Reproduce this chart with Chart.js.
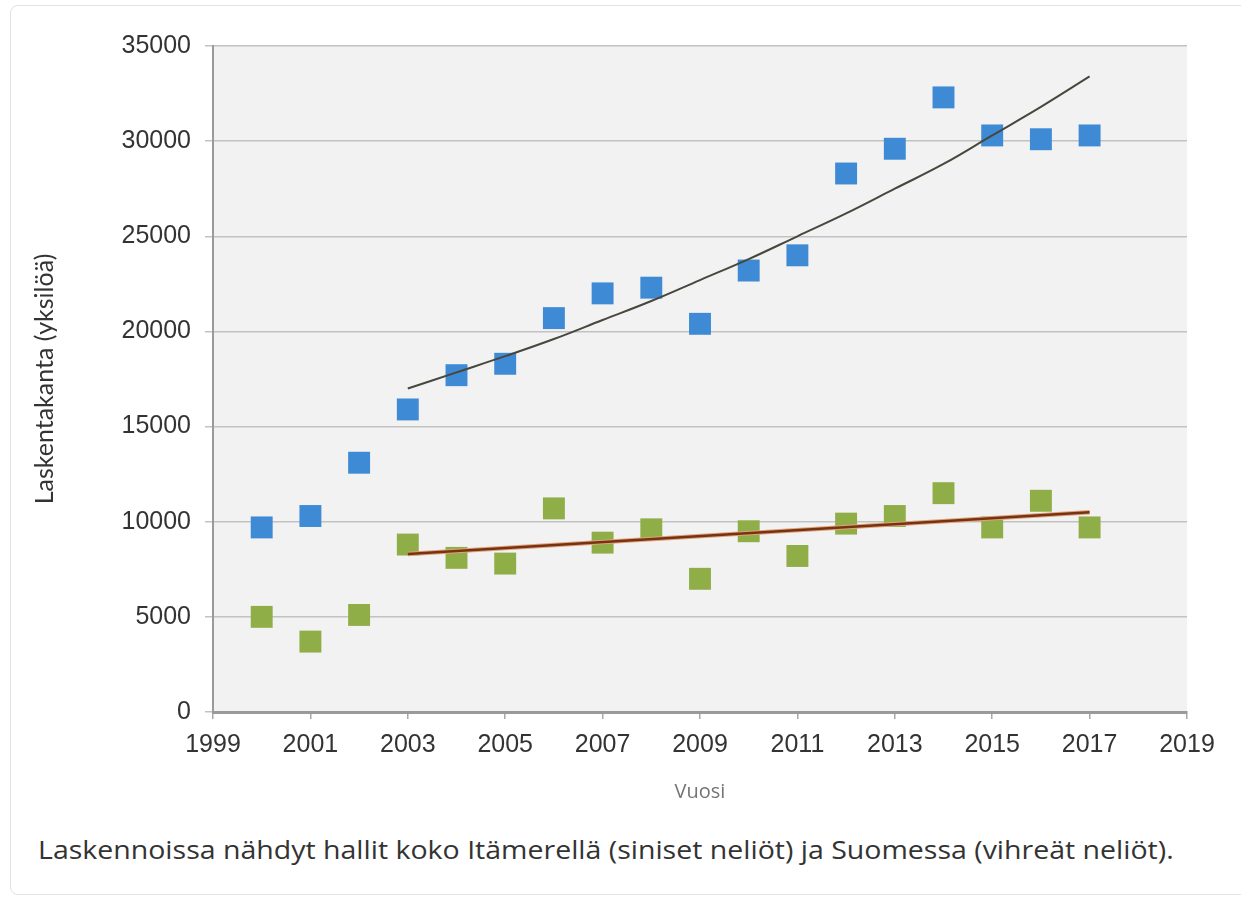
<!DOCTYPE html>
<html lang="fi">
<head>
<meta charset="utf-8">
<title>Hallit Itämerellä ja Suomessa</title>
<script src="https://cdn.jsdelivr.net/npm/chart.js@4.4.1/dist/chart.umd.min.js"></script>
<style>
  html, body { margin: 0; padding: 0; background: #ffffff; }
  body { width: 1241px; height: 898px; position: relative; overflow: hidden; }
  .kortti {
    position: absolute; left: 10px; top: 5px; width: 1240px; height: 890px;
    border: 1px solid #e2e2e2; border-radius: 8px; box-sizing: border-box;
  }
  .kaavio { position: absolute; left: 0; top: 0; width: 1241px; height: 810px; }
  .kuvateksti {
    position: absolute; left: 38px; top: 832px;
    font-family: "Open Sans", sans-serif; font-size: 25px;
    transform: scaleX(1.14); transform-origin: left center;
    color: #333333; white-space: nowrap;
  }
</style>
</head>
<body>
<div class="kortti"></div>
<div class="kaavio"><canvas id="kanta"></canvas></div>
<div class="kuvateksti">Laskennoissa nähdyt hallit koko Itämerellä (siniset neliöt) ja Suomessa (vihreät neliöt).</div>

<script>
// Data luettu kuvasta
const vuodet = [2000, 2001, 2002, 2003, 2004, 2005, 2006, 2007, 2008,
                2009, 2010, 2011, 2012, 2013, 2014, 2015, 2016, 2017];
const itameri = [9700, 10300, 13100, 15900, 17700, 18300, 20700, 22000, 22300,
                 20400, 23200, 24000, 28300, 29600, 32300, 30300, 30100, 30300];
const suomi = [5000, 3700, 5100, 8800, 8100, 7800, 10700, 8900, 9600,
               7000, 9500, 8200, 9900, 10300, 11500, 9700, 11100, 9700];

// Trendiviivat (luettu kuvasta)
const trendiVuodet = [2003, 2004, 2005, 2006, 2007, 2008, 2009, 2010,
                      2011, 2012, 2013, 2014, 2015, 2016, 2017];
const itameriTrendi = [17000, 17850, 18700, 19600, 20600, 21600, 22700, 23800,
                       25000, 26200, 27500, 28800, 30300, 31800, 33400];
const suomiTrendiVuodet = [2003, 2017];
const suomiTrendi = [8300, 10500];

const xTicks = [1999, 2001, 2003, 2005, 2007, 2009, 2011, 2013, 2015, 2017, 2019];
const yTicks = [0, 5000, 10000, 15000, 20000, 25000, 30000, 35000];

const pisteet = (xs, ys) => xs.map((x, i) => ({ x: x, y: ys[i] }));

// Harmaa taustaväri piirtoalueelle
const taustaPlugin = {
  id: "tausta",
  beforeDraw(chart) {
    const { ctx, chartArea: a } = chart;
    ctx.save();
    ctx.fillStyle = "#f2f2f2";
    ctx.fillRect(a.left, a.top, a.right - a.left, a.bottom - a.top);
    ctx.restore();
  }
};

new Chart(document.getElementById("kanta"), {
  type: "scatter",
  data: {
    datasets: [
      {
        label: "Itämeri trendi",
        type: "line",
        data: pisteet(trendiVuodet, itameriTrendi),
        borderColor: "#47473d",
        borderWidth: 2,
        pointRadius: 0,
        tension: 0.4,
        fill: false,
        order: 0
      },
      {
        label: "Suomi trendi",
        type: "line",
        data: pisteet(suomiTrendiVuodet, suomiTrendi),
        borderColor: "#743412",
        borderWidth: 2.5,
        pointRadius: 0,
        fill: false,
        order: 0
      },
      {
        label: "Suomi trendi reuna",
        type: "line",
        data: pisteet(suomiTrendiVuodet, suomiTrendi),
        borderColor: "#e3a07c",
        borderWidth: 4.5,
        pointRadius: 0,
        fill: false,
        order: 1
      },
      {
        label: "Itämeri",
        data: pisteet(vuodet, itameri),
        backgroundColor: "#3f8ad4",
        borderWidth: 0,
        pointStyle: "rect",
        pointRadius: 15.5,
        pointHoverRadius: 15.5,
        order: 2
      },
      {
        label: "Suomi",
        data: pisteet(vuodet, suomi),
        backgroundColor: "#8fae48",
        borderWidth: 0,
        pointStyle: "rect",
        pointRadius: 15.5,
        pointHoverRadius: 15.5,
        order: 2
      }
    ]
  },
  options: {
    responsive: true,
    maintainAspectRatio: false,
    animation: false,
    layout: { padding: { left: 0, top: 46, right: 54, bottom: 0 } },
    plugins: {
      legend: { display: false },
      tooltip: { enabled: false }
    },
    scales: {
      x: {
        type: "linear",
        min: 1999,
        max: 2019,
        afterBuildTicks(scale) { scale.ticks = xTicks.map(v => ({ value: v })); },
        afterFit(scale) { scale.height = 98; },
        ticks: {
          callback: v => String(v),
          font: { family: "'Liberation Sans', Arial, sans-serif", size: 25 },
          color: "#333333",
          padding: 11
        },
        grid: { drawOnChartArea: false, tickLength: 7, color: "#a8a8a8", lineWidth: 1.5 },
        border: { color: "#9a9a9a", width: 3 },
        title: {
          display: true,
          text: "Vuosi",
          font: { family: "'Open Sans', sans-serif", size: 20 },
          color: "#747474",
          padding: { top: 0, bottom: 6 }
        }
      },
      y: {
        min: 0,
        max: 35000,
        afterBuildTicks(scale) { scale.ticks = yTicks.map(v => ({ value: v })); },
        afterFit(scale) { scale.width = 213; },
        ticks: {
          callback: v => String(v),
          font: { family: "'Liberation Sans', Arial, sans-serif", size: 25 },
          color: "#333333",
          padding: 14
        },
        grid: { color: "#c2c2c2", lineWidth: 1.5, tickLength: 8 },
        border: { color: "#9a9a9a", width: 2 },
        title: {
          display: true,
          text: "Laskentakanta (yksilöä)",
          font: { family: "Lato, sans-serif", size: 25 },
          color: "#333333",
          padding: { top: 30, bottom: 0 }
        }
      }
    }
  },
  plugins: [taustaPlugin]
});
</script>
</body>
</html>
